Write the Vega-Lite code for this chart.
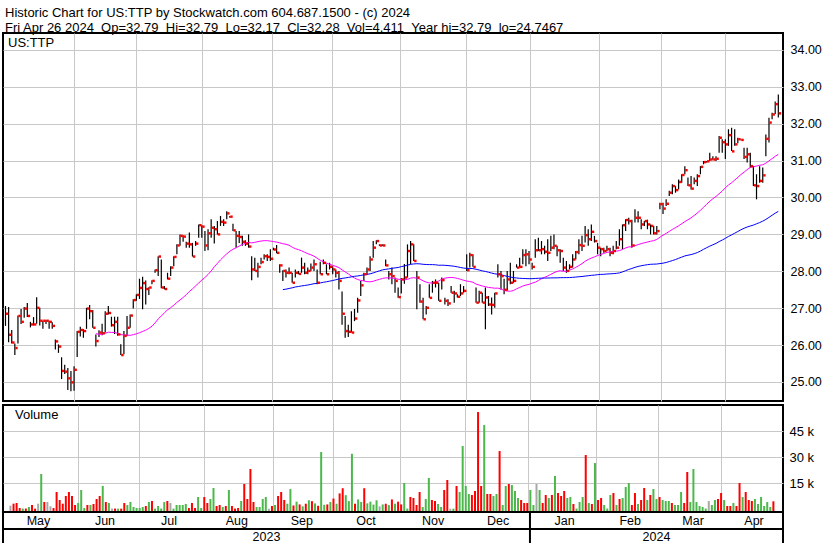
{
"$schema":"https://vega.github.io/schema/vega-lite/v6.json",
"background":"white",
"padding":{"left":1,"top":7,"right":0,"bottom":0},
"config":{"view":{"stroke":"#000","strokeWidth":2},"font":"Liberation Sans","axis":{"gridColor":"#c8c8c8","gridWidth":1,"labelFont":"Liberation Sans","labelColor":"#000"}},
"title":{"text":["Historic Chart for US:TTP by Stockwatch.com 604.687.1500 - (c) 2024","Fri Apr 26 2024\u00a0\u00a0Op=32.79\u00a0\u00a0Hi=32.79\u00a0\u00a0Lo=32.17\u00a0\u00a0Cl=32.28\u00a0\u00a0Vol=4,411\u00a0\u00a0Year hi=32.79\u00a0\u00a0lo=24.7467"],"anchor":"start","frame":"group","fontSize":13,"fontWeight":"normal","font":"Liberation Sans","color":"#000","lineHeight":15,"offset":-3,"dx":2},
"datasets":{
"px":[
{"i":0,"h":27.06,"l":26.52,"c":26.85,"v":1870,"d":"flat"},
{"i":1,"h":27.03,"l":26.08,"c":26.28,"v":3030,"d":"down"},
{"i":2,"h":26.41,"l":26.04,"c":26.07,"v":3420,"d":"down"},
{"i":3,"h":26.04,"l":25.73,"c":25.92,"v":520,"d":"down"},
{"i":4,"h":26.8,"l":26.04,"c":26.79,"v":200,"d":"up"},
{"i":5,"h":26.98,"l":26.57,"c":26.63,"v":200,"d":"down"},
{"i":6,"h":27.03,"l":26.74,"c":26.99,"v":1100,"d":"up"},
{"i":7,"h":27.14,"l":26.76,"c":26.79,"v":2260,"d":"down"},
{"i":8,"h":26.63,"l":26.48,"c":26.56,"v":150,"d":"down"},
{"i":9,"h":26.76,"l":26.53,"c":26.56,"v":3030,"d":"flat"},
{"i":10,"h":27.3,"l":26.58,"c":27.01,"v":20240,"d":"up"},
{"i":11,"h":27.01,"l":26.53,"c":26.66,"v":4000,"d":"down"},
{"i":12,"h":26.66,"l":26.44,"c":26.66,"v":4000,"d":"flat"},
{"i":13,"h":26.68,"l":26.57,"c":26.66,"v":1490,"d":"flat"},
{"i":14,"h":26.66,"l":26.44,"c":26.63,"v":520,"d":"down"},
{"i":15,"h":26.62,"l":26.44,"c":26.52,"v":9800,"d":"down"},
{"i":16,"h":26.15,"l":25.88,"c":26.1,"v":5160,"d":"down"},
{"i":17,"h":26.02,"l":25.79,"c":25.96,"v":3030,"d":"down"},
{"i":18,"h":25.67,"l":25.08,"c":25.3,"v":7480,"d":"down"},
{"i":19,"h":25.47,"l":25.22,"c":25.28,"v":9800,"d":"down"},
{"i":20,"h":25.38,"l":24.78,"c":25.1,"v":7480,"d":"down"},
{"i":21,"h":25.3,"l":24.75,"c":24.99,"v":2260,"d":"down"},
{"i":22,"h":25.43,"l":24.76,"c":25.33,"v":3420,"d":"up"},
{"i":23,"h":26.38,"l":25.68,"c":26.36,"v":10960,"d":"up"},
{"i":24,"h":26.5,"l":26.23,"c":26.41,"v":520,"d":"up"},
{"i":25,"h":26.43,"l":26.2,"c":26.38,"v":2260,"d":"down"},
{"i":26,"h":27.01,"l":26.44,"c":26.99,"v":2260,"d":"up"},
{"i":27,"h":27.09,"l":26.7,"c":26.92,"v":2840,"d":"down"},
{"i":28,"h":26.95,"l":26.47,"c":26.47,"v":5740,"d":"down"},
{"i":29,"h":26.29,"l":25.96,"c":26.11,"v":7480,"d":"down"},
{"i":30,"h":26.4,"l":26.22,"c":26.34,"v":13280,"d":"up"},
{"i":31,"h":26.58,"l":26.27,"c":26.32,"v":4000,"d":"down"},
{"i":32,"h":26.92,"l":26.34,"c":26.85,"v":3420,"d":"up"},
{"i":33,"h":27.06,"l":26.83,"c":26.87,"v":200,"d":"flat"},
{"i":34,"h":26.77,"l":26.5,"c":26.54,"v":200,"d":"down"},
{"i":35,"h":26.77,"l":26.3,"c":26.63,"v":150,"d":"up"},
{"i":36,"h":26.77,"l":26.25,"c":26.29,"v":150,"d":"down"},
{"i":37,"h":26.02,"l":25.73,"c":25.73,"v":3420,"d":"down"},
{"i":38,"h":26.38,"l":25.75,"c":26.25,"v":2260,"d":"up"},
{"i":39,"h":26.79,"l":26.25,"c":26.47,"v":4000,"d":"up"},
{"i":40,"h":26.83,"l":26.47,"c":26.8,"v":1100,"d":"up"},
{"i":41,"h":27.24,"l":26.99,"c":27.22,"v":520,"d":"up"},
{"i":42,"h":27.38,"l":27.2,"c":27.36,"v":520,"d":"up"},
{"i":43,"h":27.8,"l":27.25,"c":27.55,"v":1100,"d":"up"},
{"i":44,"h":27.85,"l":26.97,"c":27.68,"v":1680,"d":"down"},
{"i":45,"h":27.75,"l":27.1,"c":27.52,"v":4000,"d":"up"},
{"i":46,"h":27.57,"l":27.36,"c":27.56,"v":4580,"d":"down"},
{"i":47,"h":27.76,"l":27.65,"c":27.74,"v":150,"d":"up"},
{"i":48,"h":28.05,"l":27.96,"c":28.03,"v":1680,"d":"up"},
{"i":49,"h":28.41,"l":27.87,"c":28.4,"v":200,"d":"up"},
{"i":50,"h":28.32,"l":27.54,"c":27.56,"v":4000,"d":"up"},
{"i":51,"h":27.6,"l":27.51,"c":27.52,"v":4580,"d":"down"},
{"i":52,"h":27.96,"l":27.78,"c":27.8,"v":3420,"d":"flat"},
{"i":53,"h":28.14,"l":27.87,"c":28.1,"v":150,"d":"up"},
{"i":54,"h":28.41,"l":28.14,"c":28.39,"v":2260,"d":"up"},
{"i":55,"h":28.73,"l":28.46,"c":28.7,"v":2260,"d":"up"},
{"i":56,"h":29.0,"l":28.69,"c":28.96,"v":2260,"d":"up"},
{"i":57,"h":28.98,"l":28.8,"c":28.94,"v":2840,"d":"up"},
{"i":58,"h":28.8,"l":28.64,"c":28.75,"v":520,"d":"down"},
{"i":59,"h":29.05,"l":28.64,"c":28.73,"v":3420,"d":"down"},
{"i":60,"h":28.77,"l":28.4,"c":28.4,"v":520,"d":"down"},
{"i":61,"h":28.82,"l":28.69,"c":28.75,"v":6900,"d":"up"},
{"i":62,"h":29.27,"l":28.91,"c":29.25,"v":520,"d":"up"},
{"i":63,"h":29.25,"l":28.91,"c":29.21,"v":6900,"d":"down"},
{"i":64,"h":29.09,"l":28.55,"c":28.7,"v":3420,"d":"down"},
{"i":65,"h":29.14,"l":28.57,"c":29.03,"v":5740,"d":"up"},
{"i":66,"h":29.41,"l":28.91,"c":29.18,"v":12120,"d":"up"},
{"i":67,"h":29.23,"l":28.75,"c":29.14,"v":1680,"d":"down"},
{"i":68,"h":29.36,"l":29.0,"c":29.0,"v":2260,"d":"down"},
{"i":69,"h":29.5,"l":29.23,"c":29.34,"v":1100,"d":"up"},
{"i":70,"h":29.41,"l":29.23,"c":29.32,"v":1680,"d":"down"},
{"i":71,"h":29.63,"l":29.41,"c":29.57,"v":10960,"d":"up"},
{"i":72,"h":29.5,"l":29.45,"c":29.48,"v":1680,"d":"down"},
{"i":73,"h":29.29,"l":29.09,"c":29.11,"v":200,"d":"down"},
{"i":74,"h":29.09,"l":28.64,"c":28.96,"v":520,"d":"down"},
{"i":75,"h":29.09,"l":28.77,"c":28.93,"v":4580,"d":"up"},
{"i":76,"h":28.96,"l":28.69,"c":28.8,"v":14440,"d":"down"},
{"i":77,"h":28.84,"l":28.69,"c":28.75,"v":5740,"d":"down"},
{"i":78,"h":29.0,"l":28.64,"c":28.67,"v":23140,"d":"down"},
{"i":79,"h":28.41,"l":27.76,"c":28.05,"v":4000,"d":"down"},
{"i":80,"h":28.37,"l":28.01,"c":28.01,"v":1100,"d":"up"},
{"i":81,"h":28.23,"l":27.83,"c":28.12,"v":1100,"d":"up"},
{"i":82,"h":28.37,"l":28.19,"c":28.25,"v":5740,"d":"up"},
{"i":83,"h":28.46,"l":28.32,"c":28.41,"v":6900,"d":"up"},
{"i":84,"h":28.46,"l":28.28,"c":28.39,"v":100,"d":"flat"},
{"i":85,"h":28.6,"l":28.28,"c":28.34,"v":1680,"d":"down"},
{"i":86,"h":28.64,"l":28.57,"c":28.59,"v":2260,"d":"up"},
{"i":87,"h":28.71,"l":28.49,"c":28.5,"v":7480,"d":"down"},
{"i":88,"h":28.19,"l":27.96,"c":28.16,"v":9800,"d":"down"},
{"i":89,"h":28.03,"l":27.74,"c":28.01,"v":5200,"d":"down"},
{"i":90,"h":28.05,"l":27.83,"c":27.96,"v":3000,"d":"up"},
{"i":91,"h":28.1,"l":27.92,"c":27.96,"v":11500,"d":"up"},
{"i":92,"h":27.96,"l":27.69,"c":27.69,"v":2000,"d":"down"},
{"i":93,"h":28.05,"l":27.83,"c":27.96,"v":4200,"d":"up"},
{"i":94,"h":28.01,"l":27.92,"c":27.93,"v":2600,"d":"down"},
{"i":95,"h":28.37,"l":27.96,"c":28.1,"v":1500,"d":"up"},
{"i":96,"h":28.23,"l":27.92,"c":27.96,"v":3000,"d":"down"},
{"i":97,"h":28.1,"l":27.92,"c":28.01,"v":5000,"d":"up"},
{"i":98,"h":28.21,"l":28.01,"c":28.1,"v":4500,"d":"down"},
{"i":99,"h":28.32,"l":28.01,"c":28.19,"v":3200,"d":"up"},
{"i":100,"h":28.05,"l":27.65,"c":27.69,"v":1800,"d":"down"},
{"i":101,"h":28.26,"l":27.92,"c":27.92,"v":33000,"d":"up"},
{"i":102,"h":28.32,"l":28.19,"c":28.23,"v":2400,"d":"up"},
{"i":103,"h":28.19,"l":27.92,"c":27.92,"v":2600,"d":"down"},
{"i":104,"h":28.23,"l":28.05,"c":28.12,"v":4000,"d":"up"},
{"i":105,"h":28.14,"l":27.92,"c":28.05,"v":6000,"d":"down"},
{"i":106,"h":28.05,"l":27.83,"c":27.96,"v":3000,"d":"up"},
{"i":107,"h":28.01,"l":27.51,"c":27.74,"v":9000,"d":"down"},
{"i":108,"h":27.45,"l":26.55,"c":26.85,"v":12000,"d":"down"},
{"i":109,"h":26.79,"l":26.2,"c":26.38,"v":8000,"d":"up"},
{"i":110,"h":26.55,"l":26.22,"c":26.36,"v":4500,"d":"up"},
{"i":111,"h":26.92,"l":26.34,"c":26.34,"v":32000,"d":"up"},
{"i":112,"h":26.98,"l":26.65,"c":26.72,"v":3000,"d":"down"},
{"i":113,"h":27.28,"l":26.88,"c":27.21,"v":5500,"d":"up"},
{"i":114,"h":27.74,"l":27.33,"c":27.62,"v":4000,"d":"up"},
{"i":115,"h":27.96,"l":27.74,"c":27.92,"v":12000,"d":"down"},
{"i":116,"h":28.1,"l":27.92,"c":28.05,"v":3200,"d":"up"},
{"i":117,"h":28.41,"l":28.01,"c":28.32,"v":4200,"d":"up"},
{"i":118,"h":28.82,"l":28.37,"c":28.64,"v":2500,"d":"up"},
{"i":119,"h":28.84,"l":28.73,"c":28.82,"v":5000,"d":"up"},
{"i":120,"h":28.73,"l":28.69,"c":28.7,"v":1500,"d":"flat"},
{"i":121,"h":28.73,"l":28.69,"c":28.7,"v":2600,"d":"up"},
{"i":122,"h":28.32,"l":28.14,"c":28.16,"v":3000,"d":"down"},
{"i":123,"h":28.01,"l":27.78,"c":27.92,"v":2200,"d":"up"},
{"i":124,"h":28.1,"l":27.65,"c":27.87,"v":5500,"d":"down"},
{"i":125,"h":27.83,"l":27.42,"c":27.74,"v":3000,"d":"up"},
{"i":126,"h":27.56,"l":27.28,"c":27.3,"v":4200,"d":"down"},
{"i":127,"h":27.82,"l":27.4,"c":27.78,"v":2600,"d":"down"},
{"i":128,"h":28.2,"l":27.66,"c":27.83,"v":15020,"d":"up"},
{"i":129,"h":28.73,"l":27.83,"c":28.55,"v":200,"d":"up"},
{"i":130,"h":28.82,"l":28.19,"c":28.73,"v":6900,"d":"down"},
{"i":131,"h":28.73,"l":28.28,"c":28.28,"v":6320,"d":"down"},
{"i":132,"h":28.01,"l":26.97,"c":27.83,"v":2260,"d":"down"},
{"i":133,"h":27.65,"l":27.15,"c":27.18,"v":9800,"d":"down"},
{"i":134,"h":27.28,"l":26.7,"c":26.7,"v":1100,"d":"up"},
{"i":135,"h":27.06,"l":26.83,"c":27.01,"v":5740,"d":"up"},
{"i":136,"h":27.65,"l":27.28,"c":27.28,"v":17920,"d":"up"},
{"i":137,"h":27.74,"l":27.42,"c":27.69,"v":5160,"d":"down"},
{"i":138,"h":27.78,"l":27.56,"c":27.69,"v":4580,"d":"down"},
{"i":139,"h":27.69,"l":27.2,"c":27.2,"v":2840,"d":"up"},
{"i":140,"h":27.83,"l":27.51,"c":27.76,"v":1100,"d":"up"},
{"i":141,"h":27.28,"l":27.1,"c":27.2,"v":10960,"d":"down"},
{"i":142,"h":27.24,"l":27.06,"c":27.13,"v":16760,"d":"down"},
{"i":143,"h":27.6,"l":27.42,"c":27.42,"v":100,"d":"flat"},
{"i":144,"h":27.47,"l":27.15,"c":27.4,"v":150,"d":"up"},
{"i":145,"h":27.38,"l":27.29,"c":27.31,"v":13280,"d":"down"},
{"i":146,"h":27.65,"l":27.33,"c":27.4,"v":9800,"d":"up"},
{"i":147,"h":27.6,"l":27.42,"c":27.47,"v":36480,"d":"up"},
{"i":148,"h":28.46,"l":28.01,"c":28.03,"v":13280,"d":"up"},
{"i":149,"h":28.5,"l":28.1,"c":28.44,"v":8640,"d":"up"},
{"i":150,"h":28.46,"l":28.12,"c":28.12,"v":8060,"d":"down"},
{"i":151,"h":27.56,"l":27.15,"c":27.15,"v":10380,"d":"down"},
{"i":152,"h":27.47,"l":27.15,"c":27.42,"v":56200,"d":"down"},
{"i":153,"h":27.42,"l":27.15,"c":27.15,"v":13280,"d":"down"},
{"i":154,"h":27.56,"l":26.43,"c":27.29,"v":48660,"d":"up"},
{"i":155,"h":27.33,"l":27.06,"c":27.1,"v":8640,"d":"down"},
{"i":156,"h":27.29,"l":26.83,"c":27.09,"v":8640,"d":"down"},
{"i":157,"h":27.42,"l":27.01,"c":27.4,"v":7480,"d":"up"},
{"i":158,"h":28.19,"l":27.83,"c":27.92,"v":8640,"d":"up"},
{"i":159,"h":28.01,"l":27.51,"c":27.87,"v":33580,"d":"down"},
{"i":160,"h":27.8,"l":27.38,"c":27.5,"v":2260,"d":"up"},
{"i":161,"h":28.01,"l":27.47,"c":27.78,"v":13280,"d":"up"},
{"i":162,"h":28.23,"l":27.65,"c":27.69,"v":14440,"d":"down"},
{"i":163,"h":28.01,"l":27.69,"c":27.74,"v":13860,"d":"up"},
{"i":164,"h":28.19,"l":28.1,"c":28.1,"v":10380,"d":"up"},
{"i":165,"h":28.37,"l":28.1,"c":28.12,"v":6320,"d":"up"},
{"i":166,"h":28.6,"l":28.19,"c":28.44,"v":5160,"d":"down"},
{"i":167,"h":28.6,"l":28.14,"c":28.46,"v":3420,"d":"down"},
{"i":168,"h":28.55,"l":28.19,"c":28.32,"v":3420,"d":"down"},
{"i":169,"h":28.23,"l":28.05,"c":28.12,"v":10960,"d":"up"},
{"i":170,"h":28.87,"l":28.37,"c":28.57,"v":2260,"d":"up"},
{"i":171,"h":28.91,"l":28.55,"c":28.57,"v":14440,"d":"flat"},
{"i":172,"h":28.82,"l":28.46,"c":28.6,"v":10960,"d":"up"},
{"i":173,"h":28.69,"l":28.46,"c":28.53,"v":3420,"d":"down"},
{"i":174,"h":28.87,"l":28.28,"c":28.5,"v":8060,"d":"down"},
{"i":175,"h":28.96,"l":28.55,"c":28.64,"v":6320,"d":"up"},
{"i":176,"h":29.0,"l":28.6,"c":28.69,"v":8060,"d":"down"},
{"i":177,"h":28.69,"l":28.41,"c":28.57,"v":19080,"d":"up"},
{"i":178,"h":28.6,"l":28.23,"c":28.55,"v":9220,"d":"down"},
{"i":179,"h":28.37,"l":28.01,"c":28.1,"v":7480,"d":"down"},
{"i":180,"h":28.28,"l":27.96,"c":28.01,"v":10380,"d":"down"},
{"i":181,"h":28.19,"l":28.05,"c":28.12,"v":6320,"d":"up"},
{"i":182,"h":28.46,"l":28.1,"c":28.32,"v":6900,"d":"up"},
{"i":183,"h":28.55,"l":28.32,"c":28.52,"v":2840,"d":"down"},
{"i":184,"h":28.87,"l":28.46,"c":28.71,"v":200,"d":"up"},
{"i":185,"h":28.96,"l":28.55,"c":28.69,"v":4000,"d":"up"},
{"i":186,"h":29.23,"l":28.78,"c":28.98,"v":6900,"d":"up"},
{"i":187,"h":29.14,"l":28.69,"c":28.87,"v":31260,"d":"down"},
{"i":188,"h":29.27,"l":28.82,"c":29.07,"v":3420,"d":"up"},
{"i":189,"h":28.96,"l":28.78,"c":28.82,"v":2840,"d":"down"},
{"i":190,"h":28.77,"l":28.46,"c":28.64,"v":26620,"d":"up"},
{"i":191,"h":28.64,"l":28.41,"c":28.6,"v":5160,"d":"down"},
{"i":192,"h":28.64,"l":28.5,"c":28.55,"v":6320,"d":"down"},
{"i":193,"h":28.69,"l":28.55,"c":28.6,"v":2260,"d":"up"},
{"i":194,"h":28.64,"l":28.41,"c":28.5,"v":200,"d":"up"},
{"i":195,"h":28.69,"l":28.46,"c":28.55,"v":8060,"d":"up"},
{"i":196,"h":28.82,"l":28.6,"c":28.64,"v":9220,"d":"down"},
{"i":197,"h":29.14,"l":28.69,"c":28.87,"v":2260,"d":"up"},
{"i":198,"h":29.27,"l":28.6,"c":29.25,"v":5740,"d":"down"},
{"i":199,"h":29.41,"l":29.09,"c":29.39,"v":6320,"d":"up"},
{"i":200,"h":29.45,"l":29.27,"c":29.36,"v":12700,"d":"up"},
{"i":201,"h":29.4,"l":28.64,"c":28.7,"v":15020,"d":"up"},
{"i":202,"h":29.68,"l":29.32,"c":29.45,"v":2260,"d":"down"},
{"i":203,"h":29.63,"l":29.32,"c":29.45,"v":9220,"d":"down"},
{"i":204,"h":29.41,"l":29.14,"c":29.27,"v":2840,"d":"up"},
{"i":205,"h":29.36,"l":29.23,"c":29.36,"v":5160,"d":"down"},
{"i":206,"h":29.4,"l":29.14,"c":29.27,"v":12120,"d":"down"},
{"i":207,"h":29.27,"l":29.0,"c":29.23,"v":5160,"d":"up"},
{"i":208,"h":29.23,"l":29.0,"c":29.03,"v":8060,"d":"down"},
{"i":209,"h":29.23,"l":29.0,"c":29.09,"v":11540,"d":"up"},
{"i":210,"h":29.86,"l":29.68,"c":29.82,"v":5740,"d":"up"},
{"i":211,"h":29.86,"l":29.55,"c":29.7,"v":6900,"d":"down"},
{"i":212,"h":29.95,"l":29.77,"c":29.83,"v":5160,"d":"up"},
{"i":213,"h":30.18,"l":30.04,"c":30.13,"v":4580,"d":"up"},
{"i":214,"h":30.36,"l":30.09,"c":30.31,"v":4580,"d":"up"},
{"i":215,"h":30.31,"l":30.13,"c":30.2,"v":3420,"d":"down"},
{"i":216,"h":30.49,"l":30.22,"c":30.42,"v":2260,"d":"up"},
{"i":217,"h":30.63,"l":30.4,"c":30.61,"v":2260,"d":"up"},
{"i":218,"h":30.85,"l":30.63,"c":30.74,"v":9800,"d":"up"},
{"i":219,"h":30.54,"l":30.31,"c":30.33,"v":3420,"d":"down"},
{"i":220,"h":30.58,"l":30.22,"c":30.24,"v":21400,"d":"down"},
{"i":221,"h":30.54,"l":30.36,"c":30.45,"v":4000,"d":"up"},
{"i":222,"h":30.63,"l":30.31,"c":30.58,"v":23140,"d":"up"},
{"i":223,"h":30.85,"l":30.63,"c":30.83,"v":4000,"d":"up"},
{"i":224,"h":30.99,"l":30.9,"c":30.96,"v":1680,"d":"up"},
{"i":225,"h":30.99,"l":30.95,"c":30.98,"v":1100,"d":"up"},
{"i":226,"h":31.21,"l":30.99,"c":31.03,"v":200,"d":"up"},
{"i":227,"h":31.12,"l":31.02,"c":31.03,"v":4580,"d":"flat"},
{"i":228,"h":31.12,"l":30.99,"c":31.05,"v":2260,"d":"up"},
{"i":229,"h":31.67,"l":31.21,"c":31.62,"v":5160,"d":"up"},
{"i":230,"h":31.58,"l":31.21,"c":31.5,"v":5740,"d":"down"},
{"i":231,"h":31.58,"l":31.04,"c":31.44,"v":9220,"d":"down"},
{"i":232,"h":31.85,"l":31.4,"c":31.69,"v":5160,"d":"up"},
{"i":233,"h":31.89,"l":31.26,"c":31.25,"v":1680,"d":"down"},
{"i":234,"h":31.85,"l":31.4,"c":31.44,"v":1680,"d":"down"},
{"i":235,"h":31.62,"l":31.47,"c":31.58,"v":3420,"d":"up"},
{"i":236,"h":31.58,"l":31.55,"c":31.56,"v":1680,"d":"down"},
{"i":237,"h":31.35,"l":31.04,"c":31.1,"v":15020,"d":"down"},
{"i":238,"h":31.35,"l":30.95,"c":31.17,"v":6900,"d":"up"},
{"i":239,"h":31.21,"l":30.81,"c":30.85,"v":9800,"d":"down"},
{"i":240,"h":30.85,"l":30.31,"c":30.33,"v":5160,"d":"down"},
{"i":241,"h":30.63,"l":29.95,"c":30.31,"v":4580,"d":"down"},
{"i":242,"h":30.85,"l":30.4,"c":30.45,"v":5740,"d":"up"},
{"i":243,"h":30.81,"l":30.4,"c":30.6,"v":2840,"d":"up"},
{"i":244,"h":31.71,"l":31.12,"c":31.59,"v":6900,"d":"up"},
{"i":245,"h":32.16,"l":31.49,"c":32.03,"v":1680,"d":"up"},
{"i":246,"h":32.3,"l":32.12,"c":32.25,"v":4000,"d":"up"},
{"i":247,"h":32.6,"l":32.26,"c":32.53,"v":1100,"d":"up"},
{"i":248,"h":32.79,"l":32.17,"c":32.28,"v":4411,"d":"down"}
],
"months":[
{"m":"May","mid":10.59},{"m":"Jun","mid":31.93},{"m":"Jul","mid":52.47},{"m":"Aug","mid":74.22},{"m":"Sep","mid":95.09},{"m":"Oct","mid":115.7},{"m":"Nov","mid":137.2},{"m":"Dec","mid":158.05},{"m":"Jan","mid":179.4},{"m":"Feb","mid":200.45},{"m":"Mar","mid":220.65},{"m":"Apr","mid":240.2}
],
"years":[{"y":"2023","s":-0.8,"mid":83.75},{"y":"2024","s":168.3,"mid":208.9}]
},
"spacing":2,
"bounds":"full",
"vconcat":[
{"hconcat":[
 {"width":780,"height":368,
  "layer":[
   {"data":{"name":"px"},"mark":{"type":"rule","color":"#000","strokeWidth":1.2},
    "encoding":{
     "x":{"field":"i","type":"quantitative","scale":{"domain":[-0.8,249.5],"nice":false,"zero":false},"axis":{"values":[21.98,41.88,63.06,85.37,104.8,126.6,147.8,168.3,190.5,210.4,230.9],"grid":true,"labels":false,"ticks":false,"domain":false,"title":null}},
     "y":{"field":"l","type":"quantitative","scale":{"domain":[24.485,34.458],"nice":false,"zero":false},"axis":{"orient":"right","values":[25,25.5,26,26.5,27,27.5,28,28.5,29,29.5,30,30.5,31,31.5,32,32.5,33,33.5,34],"format":".2f","grid":true,"ticks":false,"domain":false,"labelPadding":7,"labelFontSize":12.5,"title":null}},
     "y2":{"field":"h"}}},
   {"data":{"name":"px"},"transform":[{"window":[{"op":"mean","field":"c","as":"ma"}],"sort":[{"field":"i"}],"frame":[-29,0]},{"filter":"datum.i >= 29"}],
    "mark":{"type":"line","color":"#ff00ff","strokeWidth":1},
    "encoding":{"x":{"field":"i","type":"quantitative"},"y":{"field":"ma","type":"quantitative"}}},
   {"data":{"name":"px"},"transform":[{"window":[{"op":"mean","field":"c","as":"ma"}],"sort":[{"field":"i"}],"frame":[-89,0]},{"filter":"datum.i >= 89"}],
    "mark":{"type":"line","color":"#0000ff","strokeWidth":1},
    "encoding":{"x":{"field":"i","type":"quantitative"},"y":{"field":"ma","type":"quantitative"}}},
   {"data":{"name":"px"},"mark":{"type":"square","color":"#ff0000","filled":true,"size":6,"opacity":1,"xOffset":1.6},
    "encoding":{"x":{"field":"i","type":"quantitative"},"y":{"field":"c","type":"quantitative"}}},
   {"data":{"values":[{"label":"US:TTP"}]},"mark":{"type":"text","align":"left","baseline":"top","fontSize":13,"dx":5,"dy":4,"color":"#000"},
    "encoding":{"x":{"datum":-0.8,"type":"quantitative"},"y":{"datum":34.458,"type":"quantitative"},"text":{"field":"label"}}}
  ]},
 {"width":48,"height":368,"data":{"values":[{"k":1}]},"mark":{"type":"point","opacity":0},"encoding":{}}
],"spacing":0,"bounds":"flush"},
{"hconcat":[
 {"vconcat":[
  {"width":780,"height":107,
   "layer":[
    {"data":{"name":"px"},"mark":{"type":"bar","size":2},
     "encoding":{
      "x":{"field":"i","type":"quantitative","scale":{"domain":[-0.8,249.5],"nice":false,"zero":false},"axis":{"values":[21.98,41.88,63.06,85.37,104.8,126.6,147.8,168.3,190.5,210.4,230.9],"grid":true,"labels":false,"ticks":false,"domain":false,"title":null}},
      "y":{"field":"v","type":"quantitative","scale":{"domain":[-1800,60290],"nice":false,"zero":false},"axis":{"orient":"right","values":[15000,30000,45000],"labelExpr":"(datum.value/1000) + ' k'","grid":true,"ticks":false,"domain":false,"labelPadding":6,"labelFontSize":13,"title":null}},
      "y2":{"datum":-1800},
      "color":{"field":"d","type":"nominal","scale":{"domain":["up","down","flat"],"range":["#4cb84c","#ff0000","#a8a8a8"]},"legend":null}}},
    {"data":{"values":[{"label":"Volume"}]},"mark":{"type":"text","align":"left","baseline":"top","fontSize":13,"dx":7,"dy":4,"color":"#000"},
     "encoding":{"x":{"datum":-0.8,"type":"quantitative"},"y":{"datum":60290,"type":"quantitative"},"text":{"field":"label"}}}
   ]},
  {"width":780,"height":17,
   "layer":[
    {"data":{"name":"months"},"mark":{"type":"text","fontSize":12.5,"baseline":"middle","color":"#000"},
     "encoding":{"x":{"field":"mid","type":"quantitative","scale":{"domain":[-0.8,249.5],"nice":false,"zero":false},"axis":null},"text":{"field":"m"}}},
    {"data":{"name":"years"},"mark":{"type":"rule","color":"#000","strokeWidth":2},
     "encoding":{"x":{"field":"s","type":"quantitative"}}}
   ]},
  {"width":780,"height":16,
   "layer":[
    {"data":{"name":"years"},"mark":{"type":"text","fontSize":12.5,"baseline":"middle","color":"#000"},
     "encoding":{"x":{"field":"mid","type":"quantitative","scale":{"domain":[-0.8,249.5],"nice":false,"zero":false},"axis":null},"text":{"field":"y"}}},
    {"data":{"name":"years"},"mark":{"type":"rule","color":"#000","strokeWidth":2},
     "encoding":{"x":{"field":"s","type":"quantitative"}}}
   ]}
 ],"spacing":0,"bounds":"flush"},
 {"width":48,"height":140,"data":{"values":[{"k":1}]},"mark":{"type":"point","opacity":0},"encoding":{}}
],"spacing":0,"bounds":"flush"}
]
}
